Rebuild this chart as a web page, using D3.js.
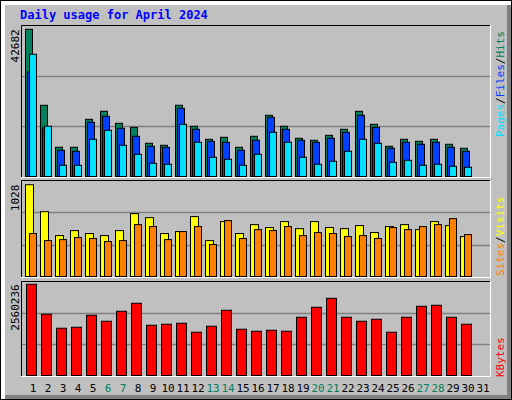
<!DOCTYPE html><html><head><meta charset="utf-8">
<script src="https://cdn.jsdelivr.net/npm/d3@7"></script>
<style>body{margin:0;background:#fff}text{font-family:"DejaVu Sans Mono",monospace}</style></head><body>
<svg id="c" width="512" height="400"></svg>
<script>
const days=d3.range(1,32);
const weekend=[6,7,13,14,20,21,27,28];
const hits=[42682,20650,8470,8470,16590,18910,15430,14270,9630,9050,20650,14560,10790,11370,8470,11660,17750,14560,11080,10500,11950,13690,18910,15140,8760,10790,10210,10790,9340,8180];
const files=[30300,14070,7600,7310,15720,17460,13980,11660,8760,8470,19780,13690,10210,9920,7600,10500,17170,13690,10500,9920,11080,12820,17750,14270,8180,9920,9340,9920,8470,7310];
const pages=[35440,14560,3250,3250,10790,13400,9050,6440,3830,3540,15140,9920,5570,4990,3250,6440,12820,9920,5570,3540,4410,7310,10790,9630,4120,4700,3250,3540,2960,2670];
const visits=[1028,726,458,514,481,458,514,704,659,481,503,671,402,615,481,581,548,615,536,615,548,536,570,492,559,581,525,615,570,447];
const sites=[481,402,413,436,425,391,402,581,559,413,503,559,358,626,425,525,514,559,458,492,481,447,458,425,548,525,559,581,648,469];
const kbytes=[2560236,1719300,1326850,1354880,1691260,1523070,1803390,2027650,1410940,1438980,1467010,1214720,1382910,1831420,1298820,1242750,1270780,1242750,1635200,1915520,2167810,1635200,1523070,1579140,1214720,1635200,1943550,1971580,1635200,1438980];
const svg=d3.select("#c");
// frame
svg.append("rect").attr("x",0).attr("y",0).attr("width",512).attr("height",400).attr("fill","#000");
svg.append("rect").attr("x",1).attr("y",1).attr("width",510).attr("height",398).attr("fill","#fff");
svg.append("rect").attr("x",5).attr("y",5).attr("width",506).attr("height",394).attr("fill","#808080");
svg.append("rect").attr("x",5).attr("y",5).attr("width",502).attr("height",390).attr("fill","#C0C0C0");
svg.append("text").attr("x",20).attr("y",19).attr("fill","#0000FF").attr("font-size",12).attr("font-weight","bold").text("Daily usage for April 2024");
const x=d3.scaleLinear().domain([1,2]).range([25,40]);
const panels=[{t:25,b:177,max:42682,top:29.3},{t:180,b:277,max:1028,top:184.7},{t:281,b:376,max:2560236,top:284.3}];
const ys=panels.map(p=>d3.scaleLinear().domain([0,p.max]).range([p.b-0.5,p.top]));
panels.forEach((p,i)=>{
  const g=svg.append("g");
  g.append("rect").attr("x",21).attr("y",p.t).attr("width",469).attr("height",p.b-p.t).attr("fill","#C0C0C0");
  const h=p.b-p.t;
  [1/3,2/3].forEach(f=>g.append("line").attr("x1",21).attr("x2",490).attr("y1",Math.round(p.b-h*f)+0.5).attr("y2",Math.round(p.b-h*f)+0.5).attr("stroke","#808080").attr("stroke-width",1.5));
  g.append("path").attr("d",`M21.5,${p.b}V${p.t+0.5}H490`).attr("stroke","#000").attr("fill","none");
  g.append("path").attr("d",`M21,${p.b+0.5}H490.5V${p.t}`).attr("stroke","#fff").attr("fill","none");
  g.append("text").attr("transform",`translate(19,${p.top})rotate(-90)`).attr("text-anchor","end").attr("font-size",11).text(p.max);
});
function bars(data,y,off,w,color){
  svg.append("g").selectAll("rect").data(data).join("rect")
   .attr("x",(d,i)=>x(i+1)+off+0.5).attr("width",w).attr("y",d=>y(d)).attr("height",d=>y(0)-y(d))
   .attr("fill",color).attr("stroke","#000").attr("stroke-width",1);
}
bars(hits,ys[0],0,7,"#00805C");
bars(files,ys[0],2,7,"#0040FF");
bars(pages,ys[0],4,7,"#00E0FF");
bars(visits,ys[1],0,8,"#FFFF00");
bars(sites,ys[1],4,7,"#FF8000");
bars(kbytes,ys[2],1,10,"#FF0000");
svg.append("g").selectAll("text").data(days).join("text").attr("x",d=>x(d)+8).attr("y",392).attr("text-anchor","middle").attr("font-size",11)
  .attr("fill",d=>weekend.includes(d)?"#00805C":"#000").text(d=>d);
function rlabel(yb,parts){
  const t=svg.append("text").attr("transform",`translate(504,${yb})rotate(-90)`).attr("font-size",11);
  parts.forEach(([s,c])=>t.append("tspan").attr("fill",c).text(s));
}
rlabel(137,[["Pages","#00E0FF"],["/","#000"],["Files","#0040FF"],["/","#000"],["Hits","#00805C"]]);
rlabel(276,[["Sites","#FF8000"],["/","#000"],["Visits","#FFFF00"]]);
rlabel(377,[["KBytes","#FF0000"]]);
</script></body></html>
